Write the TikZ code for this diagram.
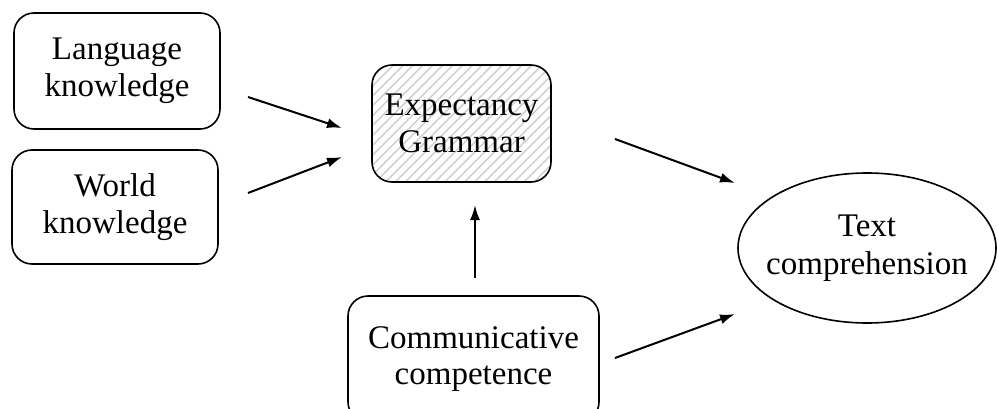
\documentclass[tikz,border=0pt]{standalone}
\usepackage{fontspec}
\setmainfont{Liberation Serif}
\usetikzlibrary{arrows.meta,shapes.geometric,patterns.meta}
\begin{document}
\begin{tikzpicture}[x=1pt,y=-1pt,
  box/.style={draw, line width=1.6pt, rounded corners=20pt, align=center, inner sep=0pt,
    font=\fontsize{33}{36.5}\selectfont, execute at begin node={\rule{0pt}{30pt}}},
  hatched/.style={pattern={Lines[angle=45,distance=7pt,line width=1.6pt]}, pattern color=black!18},
  oval/.style={draw, ellipse, line width=1.6pt, align=center, inner xsep=-15pt, inner ysep=0pt,
    font=\fontsize{33}{38}\selectfont},
  arr/.style={line width=2pt, -{Latex[length=15pt,width=10pt]}}]
\useasboundingbox (0,0) rectangle (998,409);
\node[box, minimum width=206pt, minimum height=116pt] (lang) at (117,71) {Language\\knowledge};
\node[box, minimum width=206pt, minimum height=114pt] (world) at (115,207) {World\\knowledge};
\node[box, hatched, minimum width=179pt, minimum height=117pt] (exp) at (461.5,123.5) {Expectancy\\Grammar};
\node[box, minimum width=251pt, minimum height=126pt] (comm) at (473.5,359) {Communicative\\competence};
\node[oval, minimum width=258pt, minimum height=150pt] (text) at (867,248) {Text\\comprehension};
\coordinate (a1s) at (248,97);  \coordinate (a1e) at (342,128);
\coordinate (a2s) at (248,193); \coordinate (a2e) at (342,157);
\coordinate (a3s) at (475,278); \coordinate (a3e) at (475,205);
\coordinate (a4s) at (615,139); \coordinate (a4e) at (735,183);
\coordinate (a5s) at (615,358); \coordinate (a5e) at (735,314);
\draw[arr] (a1s) -- (a1e);
\draw[arr] (a2s) -- (a2e);
\draw[arr] (a3s) -- (a3e);
\draw[arr] (a4s) -- (a4e);
\draw[arr] (a5s) -- (a5e);
\end{tikzpicture}
\end{document}
